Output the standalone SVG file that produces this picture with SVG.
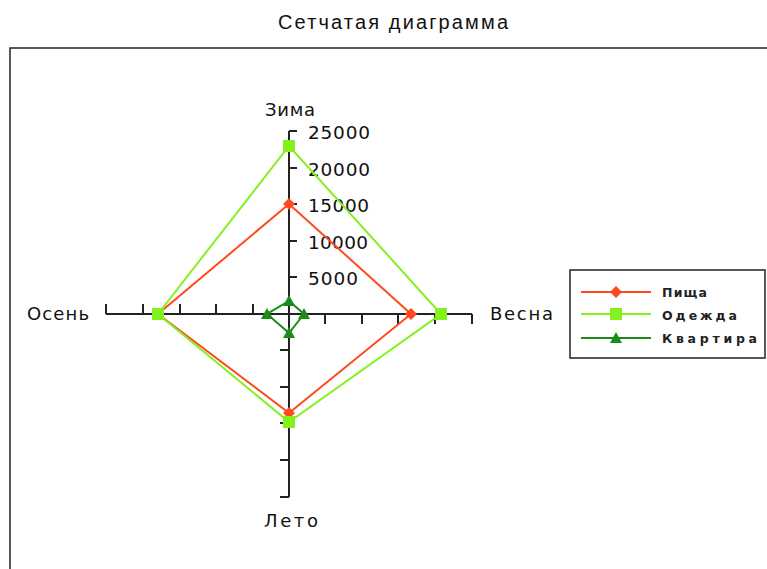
<svg xmlns="http://www.w3.org/2000/svg" width="767" height="569" viewBox="0 0 767 569">
<style>
text{font-family:"DejaVu Sans",sans-serif;fill:#111}
.ax{stroke:#222;stroke-width:2;fill:none}
.lbl{font-size:18px}
.val{font-size:18.5px}
.leg{font-size:12.5px;font-weight:bold;fill:#222}
.s1{stroke:#ff4a20;stroke-width:2;fill:none}
.s2{stroke:#84f01e;stroke-width:2;fill:none}
.s3{stroke:#1a8c1a;stroke-width:2;fill:none}
</style>
<defs>
<path id="dia" d="M0,-6 L6,0 L0,6 L-6,0Z" fill="#ff4a20"/>
<rect id="sq" x="-6" y="-6" width="12" height="12" fill="#84f01e"/>
<path id="tri" d="M0,-6 L6,5 L-6,5Z" fill="#1a8c1a"/>
</defs>
<rect width="767" height="569" fill="#fff"/>
<text x="278" y="29" textLength="230" lengthAdjust="spacing" style="font-family:'Liberation Sans',sans-serif;font-size:20px">Сетчатая диаграмма</text>
<rect x="10" y="48" width="770" height="540" fill="none" stroke="#222" stroke-width="1.5"/>
<g id="axes">
<path class="ax" d="M289,131 V497 M106,314 H472"/>
<path class="ax" d="M289,131 h8 M289,168 h8 M289,204 h8 M289,241 h8 M289,277 h8"/>
<path class="ax" d="M289,350 h-9 M289,387 h-9 M289,423 h-9 M289,460 h-9 M289,497 h-9"/>
<path class="ax" d="M106,314 v-10 M143,314 v-10 M180,314 v-10 M216,314 v-10 M253,314 v-10"/>
<path class="ax" d="M325,314 v10 M362,314 v10 M398,314 v10 M435,314 v10 M472,314 v10"/>
<text class="val" x="308" y="139" textLength="62" lengthAdjust="spacing">25000</text>
<text class="val" x="308" y="176" textLength="62" lengthAdjust="spacing">20000</text>
<text class="val" x="308" y="212" textLength="61" lengthAdjust="spacing">15000</text>
<text class="val" x="308" y="249" textLength="60" lengthAdjust="spacing">10000</text>
<text class="val" x="308" y="285" textLength="50" lengthAdjust="spacing">5000</text>
<text class="lbl" x="265" y="116" textLength="50" lengthAdjust="spacing">Зима</text>
<text class="lbl" x="490" y="320" textLength="63" lengthAdjust="spacing">Весна</text>
<text class="lbl" x="27" y="320" textLength="62" lengthAdjust="spacing">Осень</text>
<text class="lbl" x="264" y="527" textLength="54" lengthAdjust="spacing">Лето</text>
</g>
<g id="connectors">
<path class="s1" d="M289,204 L411,314 L289,413 L158,314Z"/>
<path class="s2" d="M289,146 L441,314 L289,422 L158,314Z"/>
<path class="s3" d="M289,301 L304,314 L289,333 L267,314Z"/>
</g>
<g id="pishcha">
<use href="#dia" x="289" y="204"/><use href="#dia" x="411" y="314"/><use href="#dia" x="289" y="413"/><use href="#dia" x="158" y="314"/>
</g>
<g id="odezhda">
<use href="#sq" x="289" y="146"/><use href="#sq" x="441" y="314"/><use href="#sq" x="289" y="422"/><use href="#sq" x="158" y="314"/>
</g>
<g id="kvartira">
<use href="#tri" x="289" y="301"/><use href="#tri" x="304" y="314"/><use href="#tri" x="289" y="333"/><use href="#tri" x="267" y="314"/>
</g>
<g id="legend">
<rect x="570" y="270" width="195" height="88" fill="#fff" stroke="#222" stroke-width="1.5"/>
<path class="s1" d="M581,292 H651"/><use href="#dia" x="616" y="292"/>
<path class="s2" d="M581,314 H651"/><use href="#sq" x="616" y="314"/>
<path class="s3" d="M581,338 H651"/><use href="#tri" x="616" y="338"/>
<text class="leg" x="662" y="297" textLength="45" lengthAdjust="spacing">Пища</text>
<text class="leg" x="662" y="320" textLength="75" lengthAdjust="spacing">Одежда</text>
<text class="leg" x="662" y="343" textLength="95" lengthAdjust="spacing">Квартира</text>
</g>
</svg>
